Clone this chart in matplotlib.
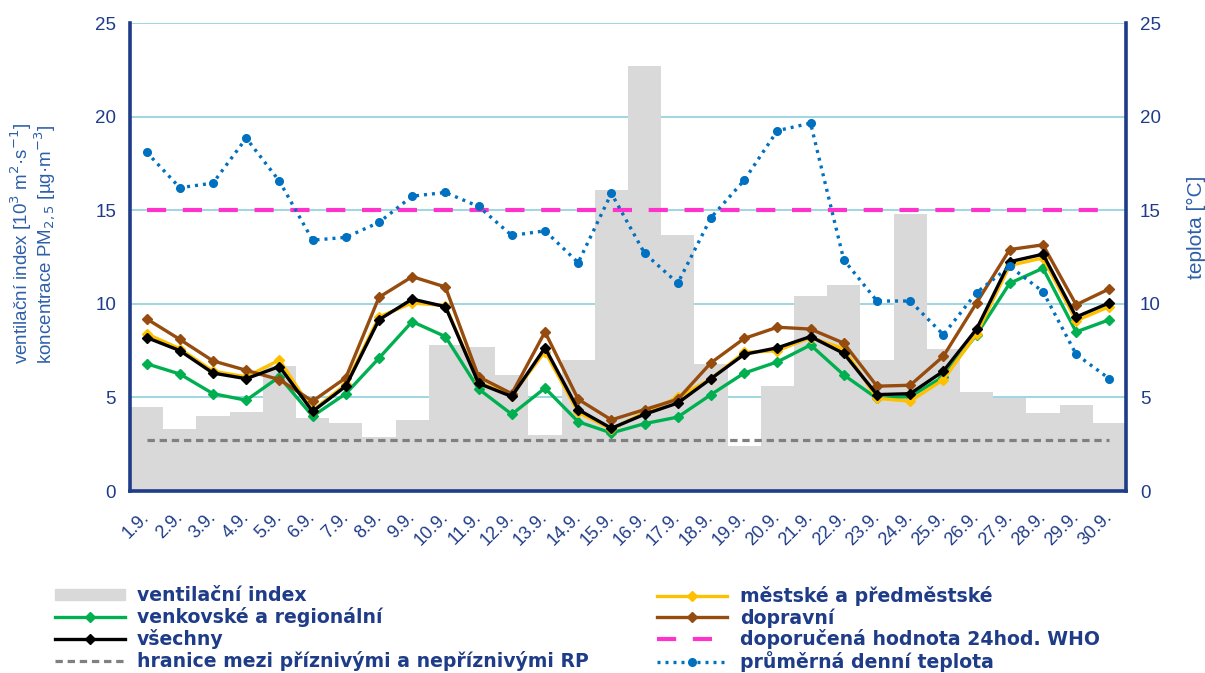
import matplotlib.pyplot as plt
from matplotlib.patches import Patch
from matplotlib.lines import Line2D

plt.rcParams['font.family'] = ['Liberation Sans', 'DejaVu Sans']

dny = [f"{i}.9." for i in range(1, 31)]

ventilacni_index = [4.5, 3.3, 4.0, 4.2, 6.7, 3.9, 3.65, 2.9, 3.8, 7.8,
                    7.7, 6.2, 3.0, 7.0, 16.1, 22.7, 13.7, 6.8, 2.4, 5.6,
                    10.4, 11.0, 7.0, 14.8, 7.6, 5.3, 4.95, 4.15, 4.6, 3.65]

venkovske = [6.8, 6.25, 5.2, 4.85, 6.1, 4.0, 5.2, 7.1, 9.05, 8.25,
             5.45, 4.1, 5.5, 3.7, 3.1, 3.6, 3.95, 5.15, 6.3, 6.9,
             7.8, 6.2, 4.95, 5.05, 6.1, 8.35, 11.1, 11.9, 8.5, 9.15]

mestske = [8.4, 7.6, 6.4, 6.1, 7.0, 4.3, 5.7, 9.3, 10.05, 9.9,
           5.8, 5.1, 7.45, 4.2, 3.3, 4.2, 5.0, 6.0, 7.4, 7.5,
           8.2, 7.6, 4.95, 4.8, 5.95, 8.4, 12.05, 12.45, 9.1, 9.85]

dopravni = [9.2, 8.1, 6.95, 6.45, 5.95, 4.8, 6.05, 10.35, 11.45, 10.9,
            6.1, 5.2, 8.5, 4.9, 3.8, 4.35, 4.9, 6.85, 8.15, 8.75,
            8.65, 7.9, 5.6, 5.65, 7.2, 10.05, 12.9, 13.15, 9.95, 10.8]

vsechny = [8.2, 7.5, 6.3, 6.0, 6.65, 4.25, 5.6, 9.15, 10.25, 9.85,
           5.75, 5.05, 7.65, 4.35, 3.35, 4.1, 4.7, 6.0, 7.3, 7.65,
           8.25, 7.35, 5.15, 5.2, 6.4, 8.65, 12.25, 12.65, 9.3, 10.05]

teplota = [18.1, 16.2, 16.45, 18.85, 16.55, 13.4, 13.55, 14.35, 15.75, 15.95,
           15.2, 13.65, 13.9, 12.2, 15.9, 12.7, 11.1, 14.6, 16.6, 19.25,
           19.65, 12.35, 10.15, 10.15, 8.35, 10.6, 12.0, 10.65, 7.3, 6.0]

who_limit = 15
hranice_rp = 2.7

navy = '#1F3C88'
label_blue = '#2E5FA8'

fig = plt.figure(figsize=(12.05, 6.73), dpi=100)
ax = fig.add_axes([0.1079, 0.2704, 0.8265, 0.6954])
ax2 = ax.twinx()

x = list(range(len(dny)))

ax.bar(x, ventilacni_index, width=1.0, color='#D9D9D9', zorder=1)
ax.grid(axis='y', color='#8FCFDC', linewidth=1.2, zorder=0)
ax.set_axisbelow(True)

ax.plot(x, [hranice_rp] * len(x), color='#808080', lw=2.3, dashes=(2.3, 1.5), zorder=2)
ax.plot(x, [who_limit] * len(x), color='#FF33CC', lw=3.0, dashes=(4.6, 4.0), zorder=2)

ax.plot(x, venkovske, color='#00B050', lw=2.4, marker='D', ms=5.5, zorder=3)
ax.plot(x, mestske, color='#FFC000', lw=2.4, marker='D', ms=5.5, zorder=4)
ax.plot(x, dopravni, color='#974C0F', lw=2.4, marker='D', ms=5.5, zorder=5)
ax.plot(x, vsechny, color='black', lw=2.4, marker='D', ms=5.5, zorder=6)

ax2.plot(x, teplota, color='#0070C0', lw=2.4, dashes=(0.9, 1.5),
         marker='o', ms=5.5)

for a in (ax, ax2):
    a.set_ylim(0, 25)
    a.set_yticks([0, 5, 10, 15, 20, 25])
    a.tick_params(axis='y', length=0, labelsize=13.5, labelcolor=navy, pad=10)
    for s in a.spines.values():
        s.set_visible(False)

ax.set_xlim(-0.5, len(x) - 0.5)
ax.set_xticks(x)
ax.set_xticklabels(dny, rotation=45, ha='right', va='center', rotation_mode='anchor')
ax.tick_params(axis='x', length=0, labelsize=13, labelcolor=navy, pad=17)

for side in ('left', 'bottom'):
    ax.spines[side].set_visible(True)
    ax.spines[side].set_color(navy)
    ax.spines[side].set_linewidth(2.6)
ax2.spines['right'].set_visible(True)
ax2.spines['right'].set_color(navy)
ax2.spines['right'].set_linewidth(2.6)

ax.set_ylabel('ventilační index [10$^3$ m$^2$·s$^{-1}$]\nkoncentrace PM$_{2,5}$ [µg·m$^{-3}$]',
              fontsize=13.5, color=label_blue, multialignment='left', linespacing=0.95)
ax.yaxis.set_label_coords(-0.072, 0.53)
ax2.set_ylabel('teplota [°C]', fontsize=15, color=label_blue)
ax2.yaxis.set_label_coords(1.061, 0.564)

txt = dict(family='DejaVu Sans', weight='bold', size=13.6)
leg1 = fig.legend(
    handles=[Patch(color='#D9D9D9'),
             Line2D([], [], color='#00B050', lw=2.4, marker='D', ms=5.5),
             Line2D([], [], color='black', lw=2.4, marker='D', ms=5.5),
             Line2D([], [], color='#808080', lw=2.3, dashes=(2.3, 1.5))],
    labels=['ventilační index', 'venkovské a regionální', 'všechny',
            'hranice mezi příznivými a nepříznivými RP'],
    loc='upper left', bbox_to_anchor=(0.0456, 0.129), frameon=False,
    prop=txt, handlelength=3.7, handletextpad=0.64, labelspacing=0.1,
    borderpad=0, borderaxespad=0, numpoints=1, handleheight=0.5)
for t in leg1.get_texts():
    t.set_color(navy)

leg2 = fig.legend(
    handles=[Line2D([], [], color='#FFC000', lw=2.4, marker='D', ms=5.5),
             Line2D([], [], color='#974C0F', lw=2.4, marker='D', ms=5.5),
             Line2D([], [], color='#FF33CC', lw=3.0, dashes=(4.6, 4.0)),
             Line2D([], [], color='#0070C0', lw=2.4, dashes=(0.9, 1.5), marker='o', ms=5.5)],
    labels=['městské a předměstské', 'dopravní', 'doporučená hodnota 24hod. WHO',
            'průměrná denní teplota'],
    loc='upper left', bbox_to_anchor=(0.545, 0.129), frameon=False,
    prop=txt, handlelength=3.7, handletextpad=0.69, labelspacing=0.1,
    borderpad=0, borderaxespad=0, numpoints=1)
for t in leg2.get_texts():
    t.set_color(navy)

fig.savefig('out.png', dpi=100)
